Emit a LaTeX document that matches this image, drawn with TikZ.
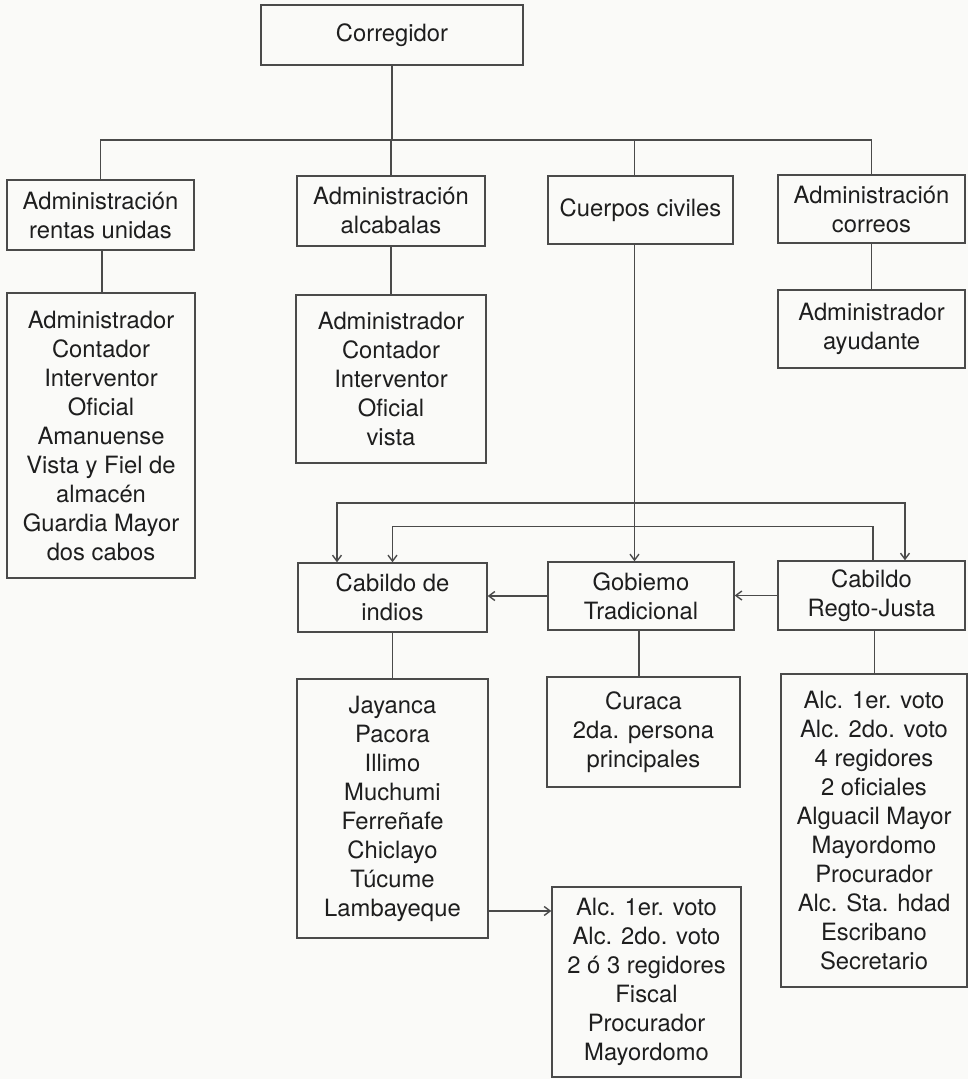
\documentclass[tikz,border=0pt]{standalone}
\usepackage{fontspec}
\setmainfont{TeX Gyre Heros}
\usepackage{xcolor}
\usetikzlibrary{arrows.meta}

\begin{document}
\begin{tikzpicture}[x=1pt,y=-1pt]

% Colori
\definecolor{colFondo}{HTML}{FAFAF8}
\definecolor{lineaGris}{HTML}{4A4A4A}
\definecolor{textoGris}{HTML}{1E1E1E}

\tikzset{
  caja/.style={draw=lineaGris, line width=1.4pt, rectangle, inner sep=0pt,
    align=center, text=textoGris, font=\fontsize{23.8}{29}\selectfont},
  linea/.style={draw=lineaGris, line width=1.4pt},
  flecha/.style={linea, -{Straight Barb[length=6pt,width=9pt]}},
  flechas/.style={linea, {Straight Barb[length=6pt,width=9pt]}-{Straight Barb[length=6pt,width=9pt]}}
}

% Fondo
\fill[colFondo] (0,0) rectangle (968,1079);
\useasboundingbox (0,0) rectangle (968,1079);

% Vertice
\node[caja, minimum width=262, minimum height=60] (corregidor) at (392,35) {Corregidor};

% Secondo livello
\node[caja, minimum width=187, minimum height=70] (rentas) at (100.5,215) {Administración\\rentas unidas};
\node[caja, minimum width=188, minimum height=70] (alcabalas) at (391,211) {Administración\\alcabalas};
\node[caja, minimum width=185, minimum height=68] (cuerpos) at (640.5,210) {Cuerpos civiles};
\node[caja, minimum width=187, minimum height=68] (correos) at (871.5,209) {Administración\\correos};

% Personale delle amministrazioni
\node[caja, minimum width=188, minimum height=285] (rentasLista) at (101,435.5)
  {Administrador\\Contador\\Interventor\\Oficial\\Amanuense\\Vista y Fiel de\\almacén\\Guardia Mayor\\dos cabos};
\node[caja, minimum width=190, minimum height=168] (alcabalasLista) at (391,379)
  {Administrador\\Contador\\Interventor\\Oficial\\vista};
\node[caja, minimum width=187, minimum height=78] (correosLista) at (871.5,329)
  {Administrador\\ayudante};

% Corpi civili
\node[caja, minimum width=189, minimum height=69] (indios) at (392.5,597.5) {Cabildo de\\indios};
\node[caja, minimum width=186, minimum height=68] (gobierno) at (641,596) {Gobiemo\\Tradicional};
\node[caja, minimum width=187, minimum height=69] (regto) at (871.5,595.5) {Cabildo\\Regto-Justa};

% Liste in basso
\node[caja, minimum width=191, minimum height=259] (indiosLista) at (392.5,808.5)
  {Jayanca\\Pacora\\Illimo\\Muchumi\\Ferreñafe\\Chiclayo\\Túcume\\Lambayeque};
\node[caja, minimum width=193, minimum height=110] (curaca) at (643.5,732)
  {Curaca\\2da. persona\\principales};
\node[caja, minimum width=186, minimum height=313] (regtoLista) at (874,830.5)
  {Alc. 1er. voto\\Alc. 2do. voto\\4 regidores\\2 oficiales\\Alguacil Mayor\\Mayordomo\\Procurador\\Alc. Sta. hdad\\Escribano\\Secretario};
\node[caja, minimum width=189, minimum height=190] (votoLista) at (646.5,982)
  {Alc. 1er. voto\\Alc. 2do. voto\\2 ó 3 regidores\\Fiscal\\Procurador\\Mayordomo};

% Collegamenti dal Corregidor
\coordinate (bus) at (corregidor.south |- 0,140);
\draw[linea] (corregidor.south) -- (bus);
\draw[linea] (rentas.north) |- (bus) -| (correos.north);
\draw[linea] (alcabalas.north) -- (alcabalas.north |- bus);
\draw[linea] ([xshift=-6pt]cuerpos.north) -- ([xshift=-6pt]cuerpos.north |- bus);

\draw[linea] ([xshift=1.5pt]rentas.south) -- ([xshift=1.5pt]rentas.south |- rentasLista.north);
\draw[linea] (alcabalas.south) -- (alcabalas.south |- alcabalasLista.north);
\draw[linea] (correos.south) -- (correos.south |- correosLista.north);

% Cuerpos civiles verso i cabildos
\draw[flecha] ([xshift=-6pt]cuerpos.south) -- ([xshift=-6pt]cuerpos.south |- gobierno.north);
\coordinate (ramal) at ([xshift=-6pt]cuerpos.south |- 0,503);
\draw[flechas] ([xshift=-55.5pt]indios.north) |- (ramal) -| ([xshift=33.5pt]regto.north);
\draw[flecha] ([xshift=1.5pt]regto.north) -- ++(0,-34) -| (indios.north);
\draw[flecha] (gobierno.west) -- (gobierno.west -| indios.east);
\draw[flecha] (regto.west) -- (regto.west -| gobierno.east);

% Collegamenti verso le liste
\draw[linea] (indios.south) -- (indios.south |- indiosLista.north);
\draw[linea] ([xshift=-2pt]gobierno.south) -- ([xshift=-2pt]gobierno.south |- curaca.north);
\draw[linea] ([xshift=3pt]regto.south) -- ([xshift=3pt]regto.south |- regtoLista.north);
\draw[flecha] ([yshift=-102.5pt]indiosLista.east) -- ([yshift=-102.5pt]indiosLista.east -| votoLista.west);

\end{tikzpicture}
\end{document}
